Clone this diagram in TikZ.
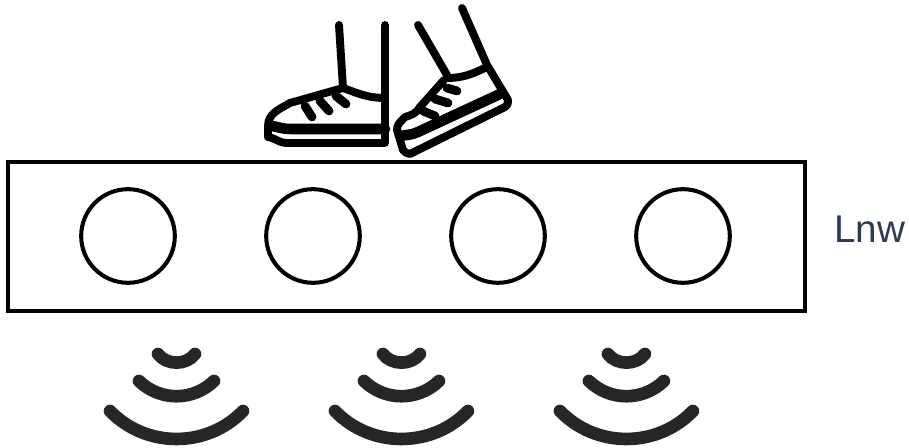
\documentclass[tikz,border=0pt]{standalone}
\usepackage{fontspec}
\setsansfont{Liberation Sans}
\definecolor{labelblue}{HTML}{2B3A55}
\definecolor{wavegray}{HTML}{262626}
\tikzset{
  pad/.style={draw, circle, line width=2.3pt, minimum size=53.3pt, inner sep=0pt},
  shoe/.style={line width=4.5pt, line cap=round, line join=round},
  lace/.style={line width=5pt, line cap=round},
  wave/.style={wavegray, line width=7.2pt, line cap=round}
}
\begin{document}
\begin{tikzpicture}[x=0.02cm,y=0.02cm]
 \useasboundingbox (0,0) rectangle (909,448);

 \draw[line width=2.3pt] (8,137) rectangle (805,286);

 \node[pad] (pad1) at (128,212) {};
 \node[pad] (pad2) at (313,212) {};
 \node[pad] (pad3) at (498,212) {};
 \node[pad] (pad4) at (683,212) {};

 \node[anchor=base west, inner sep=0pt, text=labelblue, font=\sffamily\fontsize{22}{22}\selectfont] (lnw) at (834,205) {Lnw};

 % left shoe
 \draw[shoe]
   (339,423) -- (343,360)
   (385,423) -- (385,305) -- (287,305)
   to [out=180, in=-10] (268,311) -- (268,322)
   to [out=90, in=-150] (290,345) -- (343,360)
   to [out=-20, in=180] (385,350);
 \draw[shoe, line width=6pt] (272,322) to [out=-10, in=180] (290,319) -- (385,319);
 \draw[lace]
   (305,342) -- (312,331)
   (320,347) -- (329,337)
   (336,352) -- (346,344);

 % right shoe
 \draw[shoe]
   (418,423) -- (447,373)
   (462,440) -- (487,383) -- (508,348)
   to [out=-80, in=25] (505,341) -- (410,294)
   to [out=165, in=-60] (403,298) -- (397,318)
   to [out=95, in=-130] (405,331)
   to [out=15, in=-120] (420,341) -- (444,368)
   (447,370) to [out=0, in=-155] (485,380);
 \draw[shoe, line width=6pt] (400,312) to [out=10, in=-155] (418,316) -- (500,354);
 \draw[lace]
   (447,360) -- (457,357)
   (435,349) -- (448,345)
   (423,337) -- (435,332);

 % waves
 \begin{scope}[xshift=0cm]
  \draw[wave]
   (158,94) to [out=-53, in=-127] (195,94)
   (139,67) to [out=-44, in=-136] (214,67)
   (110,37) to [out=-46, in=-134] (243,37);
 \end{scope}
 \begin{scope}[xshift=4.5cm]
  \draw[wave]
   (158,94) to [out=-53, in=-127] (195,94)
   (139,67) to [out=-44, in=-136] (214,67)
   (110,37) to [out=-46, in=-134] (243,37);
 \end{scope}
 \begin{scope}[xshift=9cm]
  \draw[wave]
   (158,94) to [out=-53, in=-127] (195,94)
   (139,67) to [out=-44, in=-136] (214,67)
   (110,37) to [out=-46, in=-134] (243,37);
 \end{scope}
\end{tikzpicture}
\end{document}
